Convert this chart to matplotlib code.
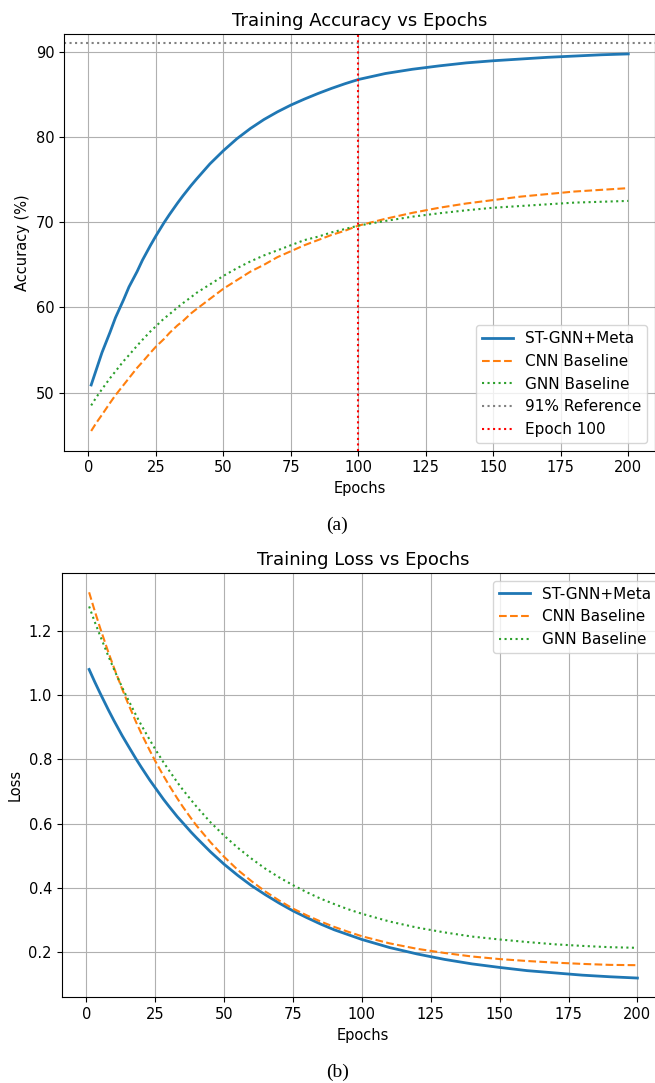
import matplotlib
matplotlib.use("Agg")
import matplotlib.pyplot as plt

epochs = [1, 3, 5, 8, 10, 13, 15, 18, 20, 23, 25, 28, 30, 33, 35, 38, 40, 45, 50, 55, 60,
          65, 70, 75, 80, 85, 90, 95, 100, 110, 120, 130, 140, 150, 160, 170, 180, 190, 200]

# (a) training accuracy (%)
acc_stgnn = [50.9, 52.8, 54.7, 57.1, 58.8, 60.9, 62.4, 64.2, 65.55, 67.3, 68.4, 69.95, 70.9,
             72.25, 73.1, 74.3, 75.05, 76.85, 78.4, 79.8, 81.0, 82.05, 82.95, 83.75, 84.45,
             85.1, 85.7, 86.25, 86.75, 87.45, 87.95, 88.35, 88.7, 88.95, 89.15, 89.35, 89.5,
             89.65, 89.75]
acc_cnn = [45.5, 46.5, 47.4, 48.8, 49.7, 50.9, 51.7, 52.9, 53.6, 54.7, 55.4, 56.3, 57.0,
           57.9, 58.4, 59.3, 59.8, 61.0, 62.2, 63.2, 64.2, 65.0, 65.9, 66.6, 67.3, 67.9,
           68.5, 69.0, 69.6, 70.4, 71.1, 71.7, 72.2, 72.6, 73.0, 73.3, 73.6, 73.8, 74.0]
acc_gnn = [48.5, 49.5, 50.4, 51.7, 52.5, 53.7, 54.4, 55.5, 56.2, 57.2, 57.8, 58.7, 59.2,
           60.0, 60.5, 61.2, 61.7, 62.7, 63.7, 64.6, 65.4, 66.1, 66.7, 67.3, 67.9, 68.3,
           68.8, 69.2, 69.6, 70.15, 70.65, 71.05, 71.4, 71.7, 71.9, 72.1, 72.3, 72.4, 72.5]
ref_acc = 91
mark_epoch = 100

# (b) training loss
loss_stgnn = [1.080, 1.042, 1.006, 0.954, 0.921, 0.874, 0.845, 0.802, 0.775, 0.736, 0.712,
              0.676, 0.654, 0.622, 0.603, 0.574, 0.556, 0.513, 0.474, 0.439, 0.407, 0.379,
              0.353, 0.329, 0.308, 0.288, 0.270, 0.255, 0.240, 0.215, 0.195, 0.178, 0.164,
              0.153, 0.143, 0.136, 0.129, 0.124, 0.120]
loss_cnn = [1.320, 1.263, 1.209, 1.133, 1.086, 1.019, 0.977, 0.917, 0.880, 0.828, 0.795,
            0.749, 0.720, 0.679, 0.653, 0.617, 0.594, 0.543, 0.497, 0.456, 0.421, 0.389,
            0.361, 0.336, 0.315, 0.296, 0.279, 0.264, 0.250, 0.228, 0.211, 0.198, 0.187,
            0.179, 0.173, 0.168, 0.164, 0.161, 0.160]
loss_gnn = [1.276, 1.229, 1.185, 1.121, 1.081, 1.024, 0.989, 0.938, 0.906, 0.861, 0.832,
            0.791, 0.766, 0.729, 0.706, 0.674, 0.653, 0.605, 0.563, 0.525, 0.491, 0.460,
            0.433, 0.409, 0.387, 0.367, 0.350, 0.334, 0.320, 0.296, 0.277, 0.262, 0.249,
            0.240, 0.232, 0.225, 0.220, 0.216, 0.214]

plt.rcParams["font.size"] = 10.5
plt.rcParams["axes.titlesize"] = 13
plt.rcParams["legend.fontsize"] = 11

fig = plt.figure(figsize=(6.55, 10.83), dpi=100)

# top panel
ax1 = fig.add_axes([0.0982, 0.5838, 0.902, 0.3845])
ax1.plot(epochs, acc_stgnn, color="#1f77b4", lw=2, label="ST-GNN+Meta")
ax1.plot(epochs, acc_cnn, color="#ff7f0e", ls="--", lw=1.5, label="CNN Baseline")
ax1.plot(epochs, acc_gnn, color="#2ca02c", ls=":", lw=1.5, label="GNN Baseline")
ax1.axhline(ref_acc, color="gray", ls=":", lw=1.5, label="91% Reference")
ax1.axvline(mark_epoch, color="red", ls=":", lw=1.5, label="Epoch 100")
ax1.set_ylim(43.18, 92.05)
ax1.set_yticks([50, 60, 70, 80, 90])
ax1.set_xticks([0, 25, 50, 75, 100, 125, 150, 175, 200])
ax1.set(xlabel="Epochs", ylabel="Accuracy (%)", title="Training Accuracy vs Epochs")
ax1.grid(True)
ax1.legend(loc="lower right")

# bottom panel
ax2 = fig.add_axes([0.0942, 0.0791, 0.9208, 0.3918])
ax2.plot(epochs, loss_stgnn, color="#1f77b4", lw=2, label="ST-GNN+Meta")
ax2.plot(epochs, loss_cnn, color="#ff7f0e", ls="--", lw=1.5, label="CNN Baseline")
ax2.plot(epochs, loss_gnn, color="#2ca02c", ls=":", lw=1.5, label="GNN Baseline")
ax2.set_xticks([0, 25, 50, 75, 100, 125, 150, 175, 200])
ax2.set(xlabel="Epochs", ylabel="Loss", title="Training Loss vs Epochs")
ax2.grid(True)
ax2.legend(loc="upper right")

# captions
fig.text(0.515, 1 - 525 / 1083, "(a)", ha="center", va="center",
         family="Liberation Serif", fontsize=14)
fig.text(0.515, 1 - 1072 / 1083, "(b)", ha="center", va="center",
         family="Liberation Serif", fontsize=14)

fig.savefig("out.png", dpi=100)
